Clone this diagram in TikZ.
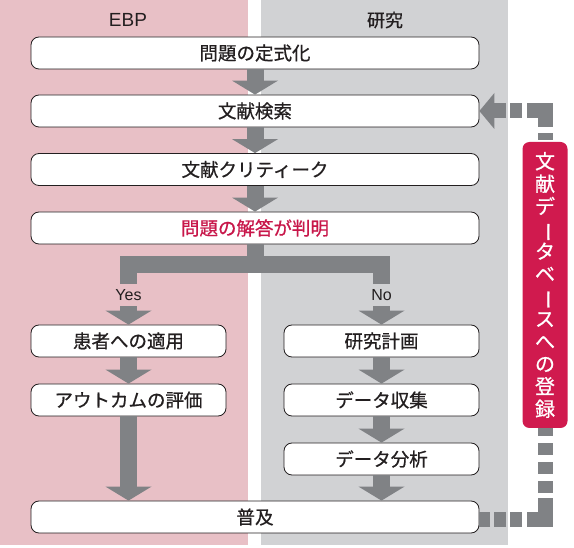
\documentclass[tikz,border=0pt]{standalone}
\usepackage{fontspec}
\usepackage{graphicx}
\usepackage{tikz}
\usetikzlibrary{arrows.meta}
\setmainfont{Noto Sans CJK JP}[FakeBold=0.7]
\newfontfamily\latinfont{Liberation Sans}
\definecolor{ebppink}{HTML}{E8C0C6}
\definecolor{resgray}{HTML}{D1D2D4}
\definecolor{flowgray}{HTML}{808285}
\definecolor{boxline}{HTML}{231F20}
\definecolor{answerred}{HTML}{C8174A}
\definecolor{regred}{HTML}{D01A4E}
\newcommand{\tatebar}{\rotatebox[origin=c]{-90}{ー}}

\tikzset{
  stepbox/.style={draw=boxline,fill=white,line width=0.8pt,rounded corners=8pt,
    minimum height=32pt,inner sep=0pt,text=boxline,font=\fontsize{18.5}{18.5}\selectfont},
  widebox/.style={stepbox,minimum width=448pt},
  halfbox/.style={stepbox,minimum width=195pt},
  flow/.style={draw=flowgray,line width=17pt,
    -{Triangle[width=46pt,length=14pt,line width=0pt]}},
  splitbar/.style={draw=flowgray,line width=17pt,line join=miter},
  turn/.style={draw=flowgray,line width=15pt,line join=miter},
  regline/.style={draw=flowgray,line width=15pt,dash pattern=on 12pt off 4pt},
  branchlabel/.style={inner sep=0pt,minimum height=22pt,text=boxline,
    font=\latinfont\fontsize{16}{16}\selectfont},
  heading/.style={text=boxline,inner sep=0pt},
}

\begin{document}
\begin{tikzpicture}[x=1pt,y=-1pt]
    \useasboundingbox (0,0) rectangle (574,548);
    % two columns
    \fill[ebppink] (0,0) rectangle (248,545);
    \fill[resgray] (261,0) rectangle (508,545);
    \node[heading,font=\latinfont\fontsize{19}{19}\selectfont] (ebphead) at (128,20) {EBP};
    \node[heading,font=\fontsize{18}{18}\selectfont] (reshead) at (385,20) {研究};

    \node[widebox] (q1) at (255,53) {問題の定式化};
    \node[widebox] (q2) at (255,111) {文献検索};
    \node[widebox] (q3) at (255,169.5) {文献クリティーク};
    \node[widebox,text=answerred] (q4) at (255,228) {問題の解答が判明};

    \node[branchlabel] (yes) at (128.5,295) {Yes};
    \node[branchlabel] (no) at (381.5,295) {No};

    \node[halfbox] (ebp1) at (128.5,341) {患者への適用};
    \node[halfbox] (ebp2) at (128.5,400) {アウトカムの評価};
    \node[halfbox] (res1) at (381.5,341) {研究計画};
    \node[halfbox] (res2) at (381.5,400) {データ収集};
    \node[halfbox] (res3) at (381.5,459) {データ分析};
    \node[widebox] (pub) at (255,517) {普及};

    \node[fill=regred,rounded corners=7pt,minimum width=45pt,minimum height=286pt,
      inner sep=0pt,text=white,align=center,font=\fontsize{20}{22.5}\selectfont]
      (reg) at (545,285) {文\\献\\デ\\\tatebar\\タ\\ベ\\\tatebar\\ス\\へ\\の\\登\\録};

    \draw[flow] (q1) -- (q2);
    \draw[flow] (q2) -- (q3);
    \draw[flow] (q3) -- (q4);

    \coordinate (fork) at (255,265);
    \draw[splitbar] (q4.south) -- (fork);
    \draw[splitbar] (yes.north) -- (yes.north |- fork) -- (no.north |- fork) -- (no.north);
    \draw[flow] (yes) -- (ebp1);
    \draw[flow] (no) -- (res1);

    \draw[flow] (ebp1) -- (ebp2);
    \draw[flow] (ebp2.south) -- (ebp2.south |- pub.north);
    \draw[flow] (res1) -- (res2);
    \draw[flow] (res2) -- (res3);
    \draw[flow] (res3.south) -- (res3.south |- pub.north);

    % feedback to the literature search
    \coordinate (topturn) at (reg.north |- q2.east);
    \coordinate (upstart) at (545,127);
    \coordinate (leftstart) at (527,111);
    \coordinate (topdash) at (522,111);
    \coordinate (regtop) at (545,140);
    \coordinate (regtopend) at (545,133);
    \draw[turn] (upstart) -- (topturn) -- (leftstart);
    \draw[turn] (regtop) -- (regtopend);
    \draw[regline,-{Triangle[width=36pt,length=15pt,line width=0pt]}] (topdash) -- (q2.east);

    \coordinate (botturn) at (545,520);
    \coordinate (botleft) at (527,520);
    \coordinate (botup) at (545,498);
    \coordinate (botdash) at (522,520);
    \coordinate (updash) at (545,493);
    \draw[turn] (botleft) -- (botturn) -- (botup);
    \draw[regline] (botdash) -- (pub.east |- botdash);
    \draw[regline,dash pattern=on 12pt off 7pt] (updash) -- (reg.south);
  \end{tikzpicture}
\end{document}
